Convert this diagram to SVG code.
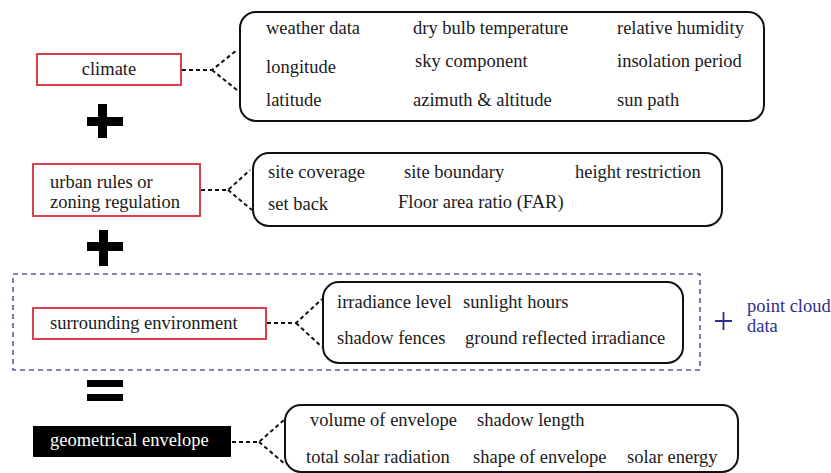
<svg xmlns="http://www.w3.org/2000/svg" width="831" height="473" viewBox="0 0 831 473">
<style>
text{font-family:'Liberation Serif',Tinos,'Times New Roman','DejaVu Serif',serif;font-size:18.5px;fill:#1a1a1a}
.red{fill:#fff;stroke:#d9404a;stroke-width:2}
.grp{fill:none;stroke:#111;stroke-width:2}
.conn{fill:none;stroke:#111;stroke-width:2;stroke-dasharray:4 3}
.op{fill:#000}
.blue{fill:#2e2e8c}
</style>
<rect width="831" height="473" fill="#fff"/>
<g id="region">
<rect x="13" y="274" width="687" height="96" fill="none" stroke="#5a5a9a" stroke-width="1.6" stroke-dasharray="5 4"/>
</g>
<g id="climate">
<rect class="red" x="37" y="54" width="144" height="31"/>
<text x="109" y="75" text-anchor="middle">climate</text>
</g>
<g id="climate-items">
<rect class="grp" x="240" y="12" width="524" height="109" rx="16"/>
<text x="266" y="34">weather data</text>
<text x="266" y="73">longitude</text>
<text x="266" y="106">latitude</text>
<text x="413" y="34">dry bulb temperature</text>
<text x="415" y="67">sky component</text>
<text x="413" y="106">azimuth &amp; altitude</text>
<text x="617" y="34">relative humidity</text>
<text x="617" y="67">insolation period</text>
<text x="617" y="106">sun path</text>
</g>
<g id="plus1">
<rect class="op" x="98" y="104" width="9" height="34"/>
<rect class="op" x="87" y="117" width="36" height="9"/>
</g>
<g id="urban">
<rect class="red" x="33" y="164" width="167" height="52"/>
<text x="50" y="188">urban rules or</text>
<text x="50" y="208">zoning regulation</text>
</g>
<g id="urban-items">
<rect class="grp" x="253" y="153" width="469" height="73" rx="16"/>
<text x="268" y="178">site coverage</text>
<text x="268" y="210">set back</text>
<text x="404" y="178">site boundary</text>
<text x="398" y="208">Floor area ratio (FAR)</text>
<text x="575" y="178">height restriction</text>
</g>
<g id="plus2">
<rect class="op" x="99" y="230" width="9" height="36"/>
<rect class="op" x="87" y="242" width="36" height="9"/>
</g>
<g id="surrounding">
<rect class="red" x="33" y="308" width="233" height="31"/>
<text x="50" y="329">surrounding environment</text>
</g>
<g id="surrounding-items">
<rect class="grp" x="323" y="282" width="360" height="81" rx="16"/>
<text x="337" y="308">irradiance level</text>
<text x="463" y="308">sunlight hours</text>
<text x="337" y="344">shadow fences</text>
<text x="465" y="344">ground reflected irradiance</text>
</g>
<g id="pointcloud">
<path d="M715,321 H732 M723.5,312 V330" stroke="#2e2e8c" stroke-width="1.8" fill="none"/>
<text class="blue" x="747" y="312">point cloud</text>
<text class="blue" x="747" y="332">data</text>
</g>
<g id="equals">
<rect class="op" x="87" y="380" width="36" height="7"/>
<rect class="op" x="87" y="394" width="36" height="7"/>
</g>
<g id="envelope">
<rect x="33" y="426" width="198" height="31" fill="#000"/>
<text x="50" y="446" style="fill:#fff">geometrical envelope</text>
</g>
<g id="envelope-items">
<rect class="grp" x="285" y="405" width="453" height="67" rx="16"/>
<text x="310" y="426">volume of envelope</text>
<text x="477" y="426">shadow length</text>
<text x="306" y="463">total solar radiation</text>
<text x="473" y="463">shape of envelope</text>
<text x="627" y="463">solar energy</text>
</g>
<g id="connectors">
<path class="conn" d="M182,70 H212 L237,50 M212,70 L237,90"/>
<path class="conn" d="M201,190 H228 L250,170 M228,190 L252,210"/>
<path class="conn" d="M267,323 H296 L322,299 M296,323 L322,347"/>
<path class="conn" d="M232,442 H259 L284,420 M259,442 L285,464"/>
</g>
</svg>
